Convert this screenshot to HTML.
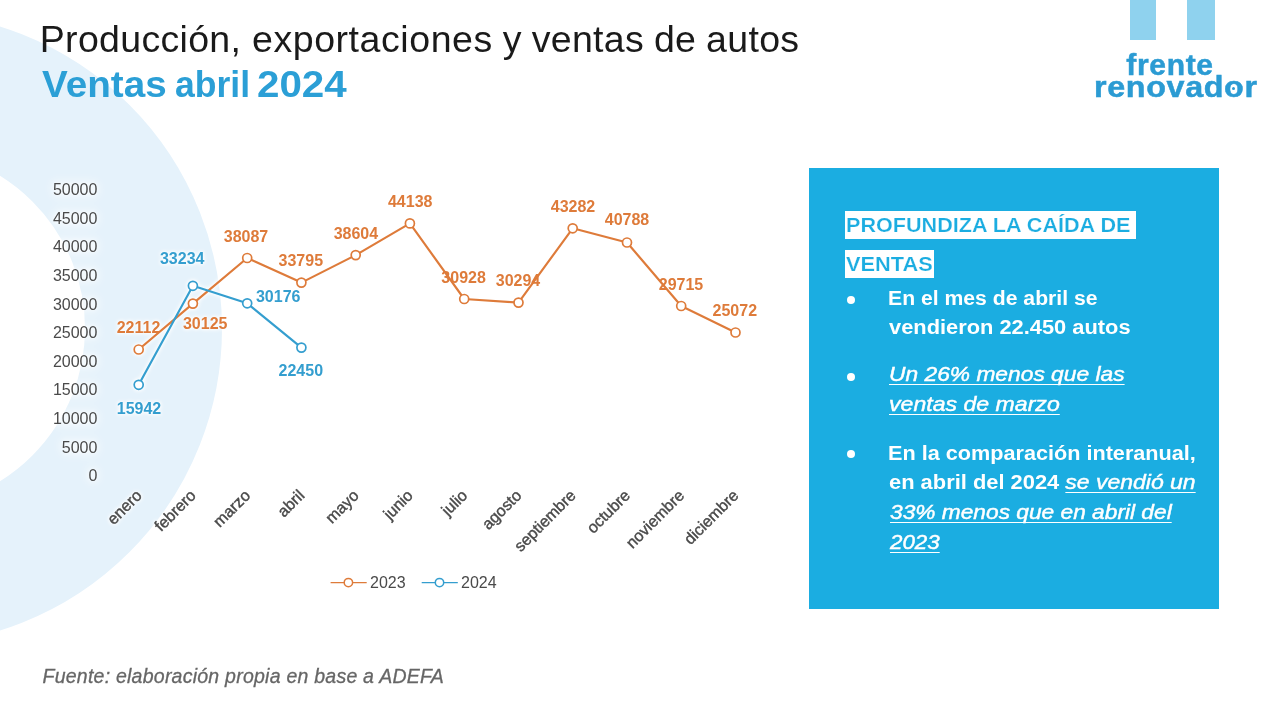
<!DOCTYPE html>
<html lang="es">
<head>
<meta charset="utf-8">
<title>Producción, exportaciones y ventas de autos</title>
<style>
html,body{margin:0;padding:0;}
body{width:1280px;height:713px;position:relative;overflow:hidden;background:#fff;font-family:"Liberation Sans",sans-serif;}
.ring{position:absolute;left:-411.5px;top:12px;width:633px;height:633px;border-radius:50%;box-sizing:border-box;border:137.5px solid #e5f2fb;}
h1,h2,p,ul,li{margin:0;padding:0;}
h1{position:absolute;left:39.8px;top:18.2px;font-size:37.5px;line-height:42px;font-weight:400;color:#1a1a1a;white-space:nowrap;letter-spacing:0.31px;}
h2{position:absolute;left:0;top:63.8px;width:400px;height:42px;font-size:36.5px;line-height:42px;font-weight:700;color:#2b9fd6;white-space:nowrap;}
h2 span{position:absolute;top:0;transform-origin:0 0;}
.src{position:absolute;left:42.5px;top:662.6px;font-size:19.5px;letter-spacing:0.24px;line-height:26px;font-style:italic;color:#666;-webkit-text-stroke:0.3px #666;white-space:nowrap;}
svg.chart{position:absolute;left:0;top:0;}
svg .ax{font-family:"Liberation Sans",sans-serif;font-size:16px;fill:#4a4a4a;}
svg .rx{stroke:#4a4a4a;stroke-width:0.4px;}
svg .halo{filter:drop-shadow(0 0 1.5px #fff) drop-shadow(0 0 2px #fff);}
svg .halo2{filter:drop-shadow(0 0 2px rgba(255,255,255,.85)) drop-shadow(0 0 4px rgba(255,255,255,.7)) drop-shadow(0 0 6px rgba(255,255,255,.5));}
svg .dl{font-family:"Liberation Sans",sans-serif;font-size:16px;font-weight:700;}
.logo{position:absolute;left:1080px;top:0;width:200px;height:110px;}
.bar{position:absolute;top:0;height:39.8px;background:#8fd2ee;}
.logo .t{position:absolute;white-space:nowrap;font-weight:700;color:#2b9bd3;-webkit-text-stroke:0.5px #2b9bd3;transform-origin:0 0;}
.box{position:absolute;left:809px;top:168px;width:410px;height:440.5px;background:#1bade1;color:#fff;}
.box .hl{position:absolute;left:35.5px;padding-left:1.7px;background:#fff;color:#1bade1;font-weight:700;font-size:20px;height:28.5px;line-height:29px;white-space:nowrap;}
.box .hl span{display:inline-block;transform-origin:0 0;-webkit-text-stroke:0.2px #fff;}
.box ul{list-style:none;}
.box .dot{position:absolute;left:38px;width:8px;height:8px;border-radius:50%;background:#fff;}
.box .ln{position:absolute;left:79.5px;font-size:20px;line-height:30px;height:30px;white-space:nowrap;font-weight:700;transform-origin:0 0;}
.box .it{font-size:21px;font-style:italic;font-weight:400;-webkit-text-stroke:0.45px #fff;text-decoration:underline;text-decoration-thickness:1.3px;text-underline-offset:3px;text-decoration-skip-ink:none;}
</style>
</head>
<body>
<div class="ring"></div>
<h1 id="h1">Producción, <span style="letter-spacing:0.57px">exportaciones</span><span style="word-spacing:-0.85px"> y ventas de autos</span></h1>
<h2 id="h2"><span style="left:42.4px;transform:scaleX(1.059)">Ventas</span> <span style="left:174.7px;transform:scaleX(0.974)">abril</span> <span style="left:257.1px;transform:scaleX(1.105)">2024</span></h2>
<svg class="chart" width="1280" height="713" viewBox="0 0 1280 713">
<g class="halo2">
<text x="97.4" y="481.3" text-anchor="end" class="ax">0</text>
<text x="97.4" y="452.7" text-anchor="end" class="ax">5000</text>
<text x="97.4" y="424.0" text-anchor="end" class="ax">10000</text>
<text x="97.4" y="395.4" text-anchor="end" class="ax">15000</text>
<text x="97.4" y="366.8" text-anchor="end" class="ax">20000</text>
<text x="97.4" y="338.2" text-anchor="end" class="ax">25000</text>
<text x="97.4" y="309.5" text-anchor="end" class="ax">30000</text>
<text x="97.4" y="280.9" text-anchor="end" class="ax">35000</text>
<text x="97.4" y="252.3" text-anchor="end" class="ax">40000</text>
<text x="97.4" y="223.6" text-anchor="end" class="ax">45000</text>
<text x="97.4" y="195.0" text-anchor="end" class="ax">50000</text>
</g>
<g class="halo">
<text transform="translate(142.7,496.5) rotate(-45)" text-anchor="end" class="ax rx">enero</text>
<text transform="translate(196.9,496.5) rotate(-45)" text-anchor="end" class="ax rx">febrero</text>
<text transform="translate(251.2,496.5) rotate(-45)" text-anchor="end" class="ax rx">marzo</text>
<text transform="translate(305.4,496.5) rotate(-45)" text-anchor="end" class="ax rx">abril</text>
<text transform="translate(359.7,496.5) rotate(-45)" text-anchor="end" class="ax rx">mayo</text>
<text transform="translate(413.9,496.5) rotate(-45)" text-anchor="end" class="ax rx">junio</text>
<text transform="translate(468.2,496.5) rotate(-45)" text-anchor="end" class="ax rx">julio</text>
<text transform="translate(522.5,496.5) rotate(-45)" text-anchor="end" class="ax rx">agosto</text>
<text transform="translate(576.7,496.5) rotate(-45)" text-anchor="end" class="ax rx">septiembre</text>
<text transform="translate(631.0,496.5) rotate(-45)" text-anchor="end" class="ax rx">octubre</text>
<text transform="translate(685.2,496.5) rotate(-45)" text-anchor="end" class="ax rx">noviembre</text>
<text transform="translate(739.5,496.5) rotate(-45)" text-anchor="end" class="ax rx">diciembre</text>
<polyline points="138.7,349.5 192.9,303.6 247.2,258.0 301.4,282.6 355.7,255.1 409.9,223.4 464.2,299.0 518.5,302.6 572.7,228.3 627.0,242.5 681.2,306.0 735.5,332.5" fill="none" stroke="#de7b3a" stroke-width="2.15" stroke-linejoin="round" stroke-linecap="round"/><circle cx="138.7" cy="349.5" r="4.5" fill="#fff" stroke="#de7b3a" stroke-width="1.7"/><circle cx="192.9" cy="303.6" r="4.5" fill="#fff" stroke="#de7b3a" stroke-width="1.7"/><circle cx="247.2" cy="258.0" r="4.5" fill="#fff" stroke="#de7b3a" stroke-width="1.7"/><circle cx="301.4" cy="282.6" r="4.5" fill="#fff" stroke="#de7b3a" stroke-width="1.7"/><circle cx="355.7" cy="255.1" r="4.5" fill="#fff" stroke="#de7b3a" stroke-width="1.7"/><circle cx="409.9" cy="223.4" r="4.5" fill="#fff" stroke="#de7b3a" stroke-width="1.7"/><circle cx="464.2" cy="299.0" r="4.5" fill="#fff" stroke="#de7b3a" stroke-width="1.7"/><circle cx="518.5" cy="302.6" r="4.5" fill="#fff" stroke="#de7b3a" stroke-width="1.7"/><circle cx="572.7" cy="228.3" r="4.5" fill="#fff" stroke="#de7b3a" stroke-width="1.7"/><circle cx="627.0" cy="242.5" r="4.5" fill="#fff" stroke="#de7b3a" stroke-width="1.7"/><circle cx="681.2" cy="306.0" r="4.5" fill="#fff" stroke="#de7b3a" stroke-width="1.7"/><circle cx="735.5" cy="332.5" r="4.5" fill="#fff" stroke="#de7b3a" stroke-width="1.7"/>
<polyline points="138.7,384.8 192.9,285.8 247.2,303.3 301.4,347.6" fill="none" stroke="#349ecf" stroke-width="2.15" stroke-linejoin="round" stroke-linecap="round"/><circle cx="138.7" cy="384.8" r="4.5" fill="#fff" stroke="#349ecf" stroke-width="1.7"/><circle cx="192.9" cy="285.8" r="4.5" fill="#fff" stroke="#349ecf" stroke-width="1.7"/><circle cx="247.2" cy="303.3" r="4.5" fill="#fff" stroke="#349ecf" stroke-width="1.7"/><circle cx="301.4" cy="347.6" r="4.5" fill="#fff" stroke="#349ecf" stroke-width="1.7"/>
<text x="138.5" y="333.3" text-anchor="middle" class="dl" fill="#de7b3a">22112</text>
<text x="205.2" y="329.3" text-anchor="middle" class="dl" fill="#de7b3a">30125</text>
<text x="246" y="241.5" text-anchor="middle" class="dl" fill="#de7b3a">38087</text>
<text x="300.8" y="266.1" text-anchor="middle" class="dl" fill="#de7b3a">33795</text>
<text x="355.9" y="239.2" text-anchor="middle" class="dl" fill="#de7b3a">38604</text>
<text x="410.2" y="207.2" text-anchor="middle" class="dl" fill="#de7b3a">44138</text>
<text x="463.6" y="282.5" text-anchor="middle" class="dl" fill="#de7b3a">30928</text>
<text x="518" y="285.6" text-anchor="middle" class="dl" fill="#de7b3a">30294</text>
<text x="573" y="211.5" text-anchor="middle" class="dl" fill="#de7b3a">43282</text>
<text x="627" y="225.0" text-anchor="middle" class="dl" fill="#de7b3a">40788</text>
<text x="681" y="289.6" text-anchor="middle" class="dl" fill="#de7b3a">29715</text>
<text x="734.8" y="315.5" text-anchor="middle" class="dl" fill="#de7b3a">25072</text>
<text x="139" y="413.6" text-anchor="middle" class="dl" fill="#349ecf">15942</text>
<text x="182.2" y="264.3" text-anchor="middle" class="dl" fill="#349ecf">33234</text>
<text x="278.2" y="302.1" text-anchor="middle" class="dl" fill="#349ecf">30176</text>
<text x="300.8" y="376.2" text-anchor="middle" class="dl" fill="#349ecf">22450</text>
<line x1="330.6" y1="582.6" x2="366.7" y2="582.6" stroke="#de7b3a" stroke-width="1.35"/><circle cx="348.4" cy="582.6" r="4.2" fill="#fff" stroke="#de7b3a" stroke-width="1.5"/>
<text x="370" y="588.3" class="ax">2023</text>
<line x1="421.7" y1="582.6" x2="457.8" y2="582.6" stroke="#349ecf" stroke-width="1.35"/><circle cx="439.5" cy="582.6" r="4.2" fill="#fff" stroke="#349ecf" stroke-width="1.5"/>
<text x="461" y="588.3" class="ax">2024</text>
</g>
</svg>
<div class="logo">
  <div class="bar" style="left:49.5px;width:26.5px"></div>
  <div class="bar" style="left:107px;width:27.8px"></div>
  <div class="t" id="lg1" style="left:46.2px;top:49.3px;font-size:30px;line-height:32px;letter-spacing:0.7px">frente</div>
  <div class="t" id="lg2" style="left:14.2px;top:70.8px;font-size:30px;line-height:32px;letter-spacing:0.6px;transform:scaleX(1.076)">renovador</div>
  <div style="position:absolute;left:152.3px;top:87.3px;width:3px;height:3px;border-radius:50%;background:#2b9bd3"></div>
</div>
<div class="box">
  <div class="hl" id="hl1" style="top:42.5px;width:290.3px"><span style="transform:scaleX(1.08)">PROFUNDIZA LA CAÍDA DE</span></div>
  <div class="hl" id="hl2" style="top:81.5px;width:87.5px"><span style="transform:scaleX(1.089)">VENTAS</span></div>
  <ul>
  <li><div class="dot" style="top:127.5px"></div>
  <div class="ln" id="l1" style="transform:scaleX(1.059);left:78.5px;top:114.6px">En el mes de abril se</div>
  <div class="ln" id="l2" style="transform:scaleX(1.092);left:80.2px;top:143.8px">vendieron 22.450 autos</div></li>
  <li><div class="dot" style="top:204.5px"></div>
  <div class="ln" id="l3" style="transform:scaleX(1.085);top:191px"><span class="it">Un 26% menos que las</span></div>
  <div class="ln" id="l4" style="transform:scaleX(1.1);top:220.7px"><span class="it">ventas de marzo</span></div></li>
  <li><div class="dot" style="top:282px"></div>
  <div class="ln" id="l5" style="transform:scaleX(1.082);left:78.5px;top:270.1px">En la comparación interanual,</div>
  <div class="ln" id="l6" style="transform:scaleX(1.094);top:298.7px">en abril del 2024 <span class="it">se vendió un</span></div>
  <div class="ln" id="l7" style="transform:scaleX(1.082);left:80.5px;top:329.4px"><span class="it">33% menos que en abril del</span></div>
  <div class="ln" id="l8" style="transform:scaleX(1.064);left:80.5px;top:359.1px"><span class="it">2023</span></div></li>
  </ul>
</div>
<p class="src" id="src">Fuente: elaboración propia en base a ADEFA</p>
</body>
</html>
